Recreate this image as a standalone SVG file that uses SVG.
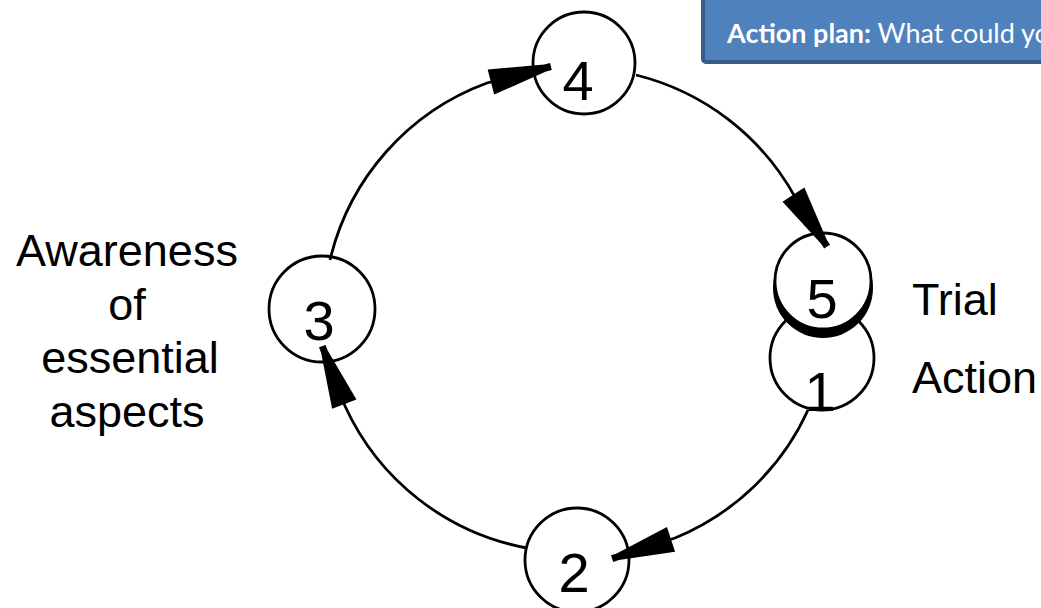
<svg xmlns="http://www.w3.org/2000/svg" width="1041" height="608" viewBox="0 0 1041 608">
<style>
.node circle{fill:#fff;stroke:#000;stroke-width:2.8}
.num{font-family:"Liberation Sans",Arial,sans-serif;font-size:56px;fill:#000;text-anchor:middle}
.lbl{font-family:"Liberation Sans",Arial,sans-serif;font-size:45px;fill:#000}
.conn path{fill:none;stroke:#000;stroke-width:2.8;marker-end:url(#ah)}
</style>
<defs>
<marker id="ah" markerUnits="userSpaceOnUse" markerWidth="70" markerHeight="30" viewBox="-62 -15 70 30" refX="0" refY="0" orient="auto" overflow="visible">
<polygon points="-60,-13 -4,-3.5 2,-3.5 2,3.5 -4,3.5 -60,13" fill="#000"/>
</marker>
</defs>
<rect width="1041" height="608" fill="#fff"/>
<g id="node1" class="node">
<circle cx="822" cy="358" r="52"/>
<text class="num" x="820" y="411">1</text>
</g>
<g id="node5" class="node">
<circle cx="823" cy="288" r="50" style="fill:#000;stroke:none"/>
<circle cx="823" cy="281" r="48"/>
<text class="num" x="822" y="318">5</text>
</g>
<g id="node4" class="node">
<circle cx="584" cy="63" r="51"/>
<text class="num" x="578" y="100">4</text>
</g>
<g id="node3" class="node">
<circle cx="322" cy="309" r="53"/>
<text class="num" x="319" y="340">3</text>
</g>
<g id="node2" class="node">
<circle cx="577" cy="560" r="52"/>
<text class="num" x="574" y="592">2</text>
</g>
<g id="connectors" class="conn">
<path d="M330,260 A250,250 0 0 1 487,83 L549,67"/>
<path d="M636,75 A250,250 0 0 1 795,197 L826,245"/>
<path d="M808,410 A250,250 0 0 1 675,538 L614,558"/>
<path d="M527,548 A250,250 0 0 1 345,406 L323,348"/>
</g>
<g id="label-awareness">
<text class="lbl" text-anchor="middle"><tspan x="127" y="266">Awareness</tspan><tspan x="127" y="320">of</tspan><tspan x="130" y="373">essential</tspan><tspan x="127" y="427">aspects</tspan></text>
</g>
<g id="label-trial"><text class="lbl" x="912" y="315">Trial</text></g>
<g id="label-action"><text class="lbl" x="912" y="393">Action</text></g>
<g id="action-plan-box">
<rect x="703" y="-5" width="360" height="67" rx="3" fill="#4f81bd" stroke="#385d8a" stroke-width="4"/>
<text x="727" y="43" font-family="Lato,'Open Sans',sans-serif" font-size="27" fill="#fff"><tspan font-weight="bold">Action plan:</tspan> What could yo</text>
</g>
</svg>
